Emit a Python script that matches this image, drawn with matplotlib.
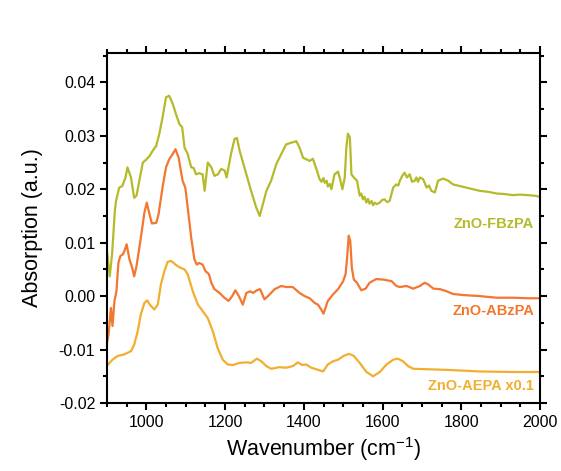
import matplotlib
matplotlib.use("Agg")
import matplotlib.pyplot as plt
from matplotlib.ticker import MultipleLocator

plt.rcParams['font.family'] = ['Liberation Sans', 'DejaVu Sans']
plt.rcParams['mathtext.fontset'] = 'custom'
plt.rcParams['mathtext.rm'] = 'Liberation Sans'
plt.rcParams['mathtext.it'] = 'Liberation Sans:italic'
plt.rcParams['mathtext.bf'] = 'Liberation Sans:bold'

# ZnO-FBzPA
fb_x = [900, 907, 913, 920, 923, 931, 939, 947, 952, 961, 969, 975, 991, 999, 1008, 1016, 1025,
        1033, 1041, 1050, 1058, 1067, 1075, 1084, 1091, 1097, 1105, 1114, 1120, 1126, 1134, 1143,
        1148, 1156, 1165, 1173, 1182, 1190, 1199, 1204, 1215, 1224, 1230, 1237, 1249, 1266, 1279,
        1288, 1296, 1305, 1317, 1330, 1343, 1355, 1368, 1381, 1389, 1398, 1415, 1423, 1432, 1440,
        1445, 1450, 1453, 1458, 1461, 1466, 1470, 1478, 1487, 1493, 1498, 1504, 1508, 1512, 1517,
        1521, 1527, 1535, 1542, 1546, 1550, 1554, 1559, 1563, 1567, 1572, 1576, 1580, 1585, 1593,
        1599, 1605, 1612, 1618, 1627, 1635, 1640, 1644, 1650, 1656, 1662, 1669, 1675, 1682, 1686,
        1690, 1695, 1703, 1708, 1712, 1718, 1724, 1733, 1741, 1754, 1767, 1779, 1796, 1814, 1830,
        1847, 1870, 1890, 1910, 1932, 1950, 1966, 1985, 2000]
fb_y = [0.0084, 0.0037, 0.0079, 0.0160, 0.0178, 0.0203, 0.0206, 0.0222, 0.0241, 0.0222, 0.0184,
        0.0188, 0.0250, 0.0255, 0.0262, 0.0272, 0.0281, 0.0304, 0.0334, 0.0372, 0.0375, 0.0360,
        0.0341, 0.0322, 0.0316, 0.0278, 0.0266, 0.0241, 0.0240, 0.0228, 0.0230, 0.0228, 0.0197,
        0.0250, 0.0241, 0.0225, 0.0228, 0.0238, 0.0235, 0.0222, 0.0266, 0.0294, 0.0296, 0.0272,
        0.0241, 0.0197, 0.0166, 0.0150, 0.0172, 0.0197, 0.0216, 0.0247, 0.0266, 0.0284, 0.0287,
        0.0290, 0.0278, 0.0259, 0.0253, 0.0257, 0.0238, 0.0219, 0.0214, 0.0221, 0.0212, 0.0216,
        0.0205, 0.0210, 0.0200, 0.0228, 0.0233, 0.0216, 0.0200, 0.0222, 0.0278, 0.0304, 0.0297,
        0.0228, 0.0222, 0.0216, 0.0188, 0.0192, 0.0181, 0.0186, 0.0175, 0.0182, 0.0173, 0.0178,
        0.0170, 0.0175, 0.0172, 0.0175, 0.0180, 0.0181, 0.0176, 0.0178, 0.0203, 0.0209, 0.0207,
        0.0216, 0.0225, 0.0231, 0.0222, 0.0228, 0.0214, 0.0216, 0.0222, 0.0214, 0.0222, 0.0219,
        0.0210, 0.0203, 0.0207, 0.0197, 0.0194, 0.0216, 0.0220, 0.0216, 0.0209, 0.0206, 0.0203,
        0.0200, 0.0197, 0.0195, 0.0192, 0.0191, 0.0189, 0.0190, 0.0189, 0.0188, 0.0186]

# ZnO-ABzPA
ab_x = [899, 904, 910, 914, 919, 924, 929, 934, 940, 944, 950, 957, 964, 969, 975, 986, 995, 1001,
        1008, 1014, 1025, 1031, 1041, 1050, 1058, 1067, 1074, 1082, 1092, 1099, 1105, 1114, 1122,
        1128, 1134, 1143, 1150, 1159, 1165, 1173, 1186, 1198, 1209, 1218, 1226, 1235, 1245, 1254,
        1264, 1271, 1281, 1289, 1300, 1313, 1326, 1343, 1355, 1372, 1389, 1402, 1415, 1428, 1436,
        1444, 1450, 1455, 1461, 1474, 1487, 1500, 1506, 1510, 1514, 1518, 1522, 1527, 1535, 1546,
        1557, 1567, 1584, 1601, 1623, 1635, 1644, 1661, 1678, 1695, 1707, 1716, 1729, 1746, 1763,
        1779, 1805, 1847, 1890, 1932, 1970, 2000]
ab_y = [-0.0091, -0.0072, -0.0022, -0.0056, -0.0009, 0.0009, 0.0062, 0.0075, 0.0078, 0.0084,
        0.0097, 0.0069, 0.0053, 0.0037, 0.0056, 0.0109, 0.0156, 0.0175, 0.0153, 0.0136, 0.0137,
        0.0153, 0.0203, 0.0241, 0.0256, 0.0266, 0.0275, 0.0259, 0.0216, 0.0203, 0.0166, 0.0109,
        0.0069, 0.0059, 0.0062, 0.0059, 0.0047, 0.0041, 0.0025, 0.0013, 0.0006, -0.0003, -0.0009,
        0.0000, 0.0011, 0.0000, -0.0016, 0.0006, 0.0009, 0.0006, 0.0011, 0.0013, -0.0006, 0.0003,
        0.0013, 0.0019, 0.0017, 0.0017, 0.0006, 0.0000, -0.0004, -0.0013, -0.0016, -0.0025,
        -0.0033, -0.0022, -0.0009, 0.0003, 0.0013, 0.0028, 0.0041, 0.0072, 0.0113, 0.0103, 0.0053,
        0.0031, 0.0025, 0.0011, 0.0014, 0.0025, 0.0032, 0.0031, 0.0028, 0.0019, 0.0017, 0.0019,
        0.0014, 0.0019, 0.0025, 0.0022, 0.0014, 0.0013, 0.0009, 0.0004, 0.0002, 0.0000, -0.0003,
        -0.0003, -0.0004, -0.0004]

# ZnO-AEPA x0.1
ae_x = [899, 914, 927, 944, 961, 969, 978, 986, 995, 1002, 1009, 1020, 1029, 1037, 1046, 1054,
        1063, 1074, 1084, 1097, 1105, 1118, 1131, 1143, 1156, 1169, 1181, 1194, 1207, 1220, 1237,
        1254, 1266, 1281, 1292, 1305, 1317, 1338, 1355, 1372, 1385, 1396, 1406, 1419, 1432, 1449,
        1461, 1474, 1487, 1501, 1515, 1527, 1542, 1559, 1576, 1593, 1610, 1627, 1639, 1652, 1665,
        1678, 1720, 1763, 1847, 1932, 2000]
ae_y = [-0.0131, -0.0119, -0.0112, -0.0109, -0.0103, -0.0091, -0.0066, -0.0034, -0.0013, -0.0008,
        -0.0016, -0.0025, -0.0016, 0.0022, 0.0047, 0.0064, 0.0066, 0.0059, 0.0054, 0.0050, 0.0041,
        0.0009, -0.0016, -0.0028, -0.0041, -0.0066, -0.0097, -0.0119, -0.0128, -0.0129, -0.0125,
        -0.0124, -0.0125, -0.0117, -0.0122, -0.0131, -0.0136, -0.0133, -0.0134, -0.0131, -0.0124,
        -0.0129, -0.0128, -0.0134, -0.0137, -0.0141, -0.0128, -0.0122, -0.0119, -0.0112, -0.0108,
        -0.0112, -0.0125, -0.0142, -0.0150, -0.0142, -0.0128, -0.0119, -0.0117, -0.0122, -0.0131,
        -0.0136, -0.0137, -0.0138, -0.0141, -0.0142, -0.0142]

series_names = ["ZnO-FBzPA", "ZnO-ABzPA", "ZnO-AEPA x0.1"]
colors = ["#B5BA2A", "#F3772F", "#F2AE2E"]
label_y = [0.0135, -0.0028, -0.0169]

fig = plt.figure(figsize=(5.61, 4.71), dpi=100)
ax = fig.add_axes([0.1907, 0.1444, 0.7719, 0.7431])

for xs, ys, c in zip([fb_x, ab_x, ae_x], [fb_y, ab_y, ae_y], colors):
    ax.plot(xs, ys, color=c, lw=1.6, solid_joinstyle='round')

for name, c, ly in zip(series_names, colors, label_y):
    ax.text(1985, ly, name, color=c, fontsize=10.5, fontweight='bold', ha='right', va='center')

ax.set_xlim(900, 2000)
ax.set_ylim(-0.02, 0.0455)
ax.xaxis.set_major_locator(MultipleLocator(200))
ax.xaxis.set_minor_locator(MultipleLocator(50))
ax.yaxis.set_minor_locator(MultipleLocator(0.005))
ax.set_yticks([-0.02, -0.01, 0.0, 0.01, 0.02, 0.03, 0.04])
ax.set_yticklabels(["-0.02", "-0.01", "0.00", "0.01", "0.02", "0.03", "0.04"])

for s in ax.spines.values():
    s.set_linewidth(1.5)
ax.tick_params(which='both', direction='out', top=True, right=True, width=1.5, labelsize=11.5)
ax.tick_params(which='major', length=5)
ax.tick_params(which='minor', length=3)

ax.set_xlabel("Wavenumber (cm$^{\\mathrm{-1}}$)", fontsize=15.5, labelpad=4)
ax.set_ylabel("Absorption (a.u.)", fontsize=15.5, labelpad=11)

fig.savefig("out.png", dpi=100)
